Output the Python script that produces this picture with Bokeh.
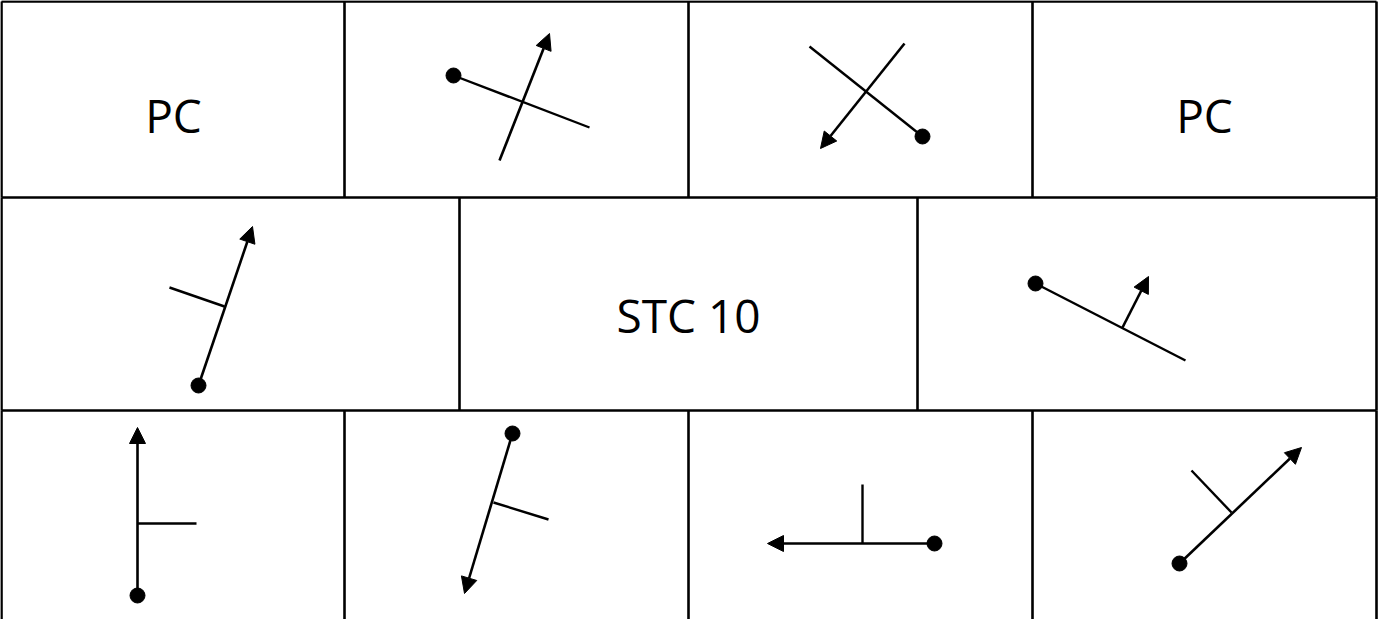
from bokeh.plotting import figure
from bokeh.models import Range1d, ColumnDataSource, Arrow, NormalHead
from bokeh.core.properties import value
from bokeh.embed import file_html
from bokeh.resources import INLINE

# ---- grid of cells (rows with their column boundaries) ----
row_tops = [9, 205, 418]
row_bottoms = [205, 418, 627]
row_cols = [
    [9, 352, 696, 1040, 1384],
    [9, 467, 925, 1384],
    [9, 352, 696, 1040, 1384],
]

# ---- text labels ----
labels = ["PC", "STC 10", "PC"]
label_x = [181, 696, 1212]
label_y = [122, 322, 122]

# ---- dots (start points) ----
dot_x = [461, 930, 206, 1043, 145, 520, 942, 1187]
dot_y = [83, 144, 393, 291, 603, 441, 551, 571]

# ---- plain line segments (no head) ----
seg_x0 = [461, 930, 177, 1043, 145, 501, 870, 1199]
seg_y0 = [83, 144, 295, 291, 531, 510, 492, 478]
seg_x1 = [597, 817, 232, 1193, 204, 556, 870, 1239]
seg_y1 = [135, 54, 314, 368, 531, 527, 551, 520]

# ---- arrows ----
arr_x0 = [507, 912, 206, 1130, 145, 520, 942, 1187]
arr_y0 = [168, 51, 393, 335, 603, 441, 551, 571]
arr_x1 = [557, 828, 260, 1156, 145, 472, 775, 1309]
arr_y1 = [41, 156, 234, 284, 435, 601, 551, 455]

W, H = 1378, 619
p = figure(width=W, height=H, output_backend="svg", toolbar_location=None,
           x_range=Range1d(8, 8 + W), y_range=Range1d(8 + H, 8),
           min_border=0, background_fill_color="white",
           border_fill_color="white")
p.axis.visible = False
p.grid.visible = False
p.outline_line_color = None

# grid lines
gx0, gy0, gx1, gy1 = [], [], [], []
for top, bot, cols in zip(row_tops, row_bottoms, row_cols):
    gx0.append(cols[0]); gy0.append(top); gx1.append(cols[-1]); gy1.append(top)
    for c in cols:
        gx0.append(c); gy0.append(top); gx1.append(c); gy1.append(bot)
p.segment(gx0, gy0, gx1, gy1, line_color="black", line_width=2.6)

# plain segments
p.segment(seg_x0, seg_y0, seg_x1, seg_y1, line_color="black", line_width=2.4)

# arrows
asrc = ColumnDataSource(dict(x0=arr_x0, y0=arr_y0, x1=arr_x1, y1=arr_y1))
p.add_layout(Arrow(end=NormalHead(size=16, fill_color="black", line_color="black",
                                  line_width=1),
                   x_start="x0", y_start="y0", x_end="x1", y_end="y1",
                   source=asrc, line_color="black", line_width=2.6))

# dots
p.scatter(dot_x, dot_y, size=15, color="black")

# labels
p.text(label_x, label_y, text=labels, text_font=value("Open Sans"),
       text_font_size="46px", text_align="center", text_baseline="alphabetic",
       text_color="black")

open("out.html", "w").write(file_html(p, INLINE))
